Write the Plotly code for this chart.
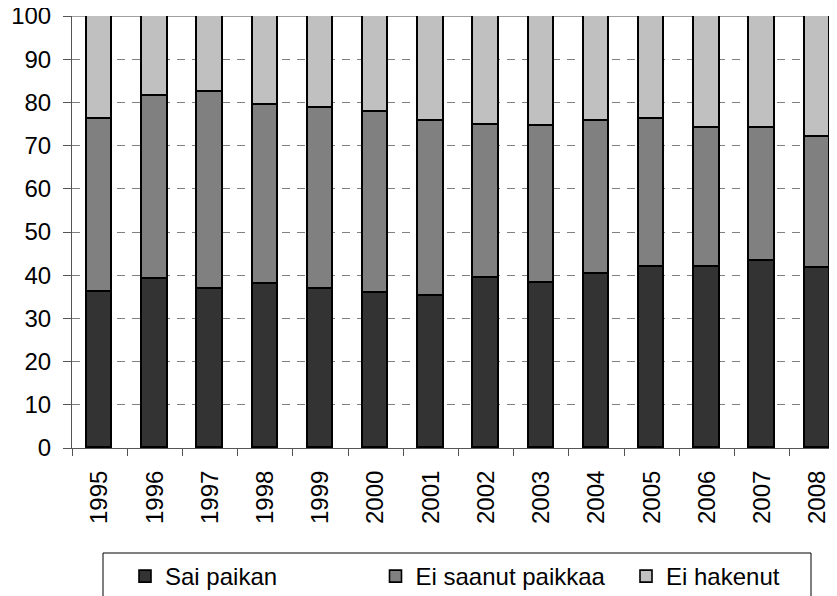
import plotly.graph_objects as go

years = ["1995", "1996", "1997", "1998", "1999", "2000", "2001",
         "2002", "2003", "2004", "2005", "2006", "2007", "2008"]
sai_paikan = [36.0, 39.1, 36.9, 38.0, 36.7, 35.8, 35.3, 39.4, 38.2, 40.2, 42.0, 42.0, 43.4, 41.7]
ei_saanut_paikkaa = [40.1, 42.4, 45.5, 41.3, 41.9, 42.0, 40.3, 35.4, 36.4, 35.6, 34.2, 32.1, 30.7, 30.4]
ei_hakenut = [23.9, 18.5, 17.6, 20.7, 21.4, 22.2, 24.4, 25.2, 25.4, 24.2, 23.8, 25.9, 25.9, 27.9]
y_ticks = [0, 10, 20, 30, 40, 50, 60, 70, 80, 90, 100]

series = [
    ("Sai paikan", sai_paikan, "#333333"),
    ("Ei saanut paikkaa", ei_saanut_paikkaa, "#808080"),
    ("Ei hakenut", ei_hakenut, "#c0c0c0"),
]

fig = go.Figure()
for name, vals, col in series:
    fig.add_trace(go.Bar(
        x=years, y=vals, name=name, width=0.46,
        marker=dict(color=col, line=dict(color="#000000", width=1.6)),
    ))

# the page body has an 8px margin, so figure coords = page coords - 8
OFF = 8
W, H = 837, 596
L = 72 - OFF
T = 16 - OFF
bottom = 448 - OFF
R = 0
B = H - bottom
pw = W - L - R
ph = bottom - T

fig.update_layout(
    width=W, height=H,
    barmode="stack",
    bargap=0,
    paper_bgcolor="white",
    plot_bgcolor="white",
    margin=dict(l=L, r=R, t=T, b=B, pad=0, autoexpand=False),
    font=dict(family="Liberation Sans, Arial, sans-serif", size=24, color="#000000"),
    showlegend=True,
    legend=dict(
        orientation="h",
        x=(125 - OFF - L) / pw, xanchor="left",
        y=-(554 - OFF - bottom) / ph, yanchor="top",
        borderwidth=0,
        bgcolor="rgba(0,0,0,0)",
        font=dict(size=24),
        entrywidth=205.5, entrywidthmode="pixels",
        traceorder="normal",
    ),
    xaxis=dict(
        type="category",
        range=[-0.5, 13.5],
        automargin=False,
        showline=True, linecolor="#555555", linewidth=1,
        ticks="outside", ticklen=7, tickcolor="#555555",
        tickson="boundaries",
        tickangle=-90,
        ticklabelstandoff=12,
        ticklabeloverflow="allow",
        tickfont=dict(size=24),
        showgrid=False,
    ),
    yaxis=dict(
        range=[0, 100],
        tickvals=y_ticks,
        automargin=False,
        showline=True, linecolor="#555555", linewidth=1,
        ticks="outside", ticklen=8, tickcolor="#555555",
        ticklabelstandoff=7,
        ticklabeloverflow="allow",
        showgrid=True, gridcolor="#808080", gridwidth=1, griddash="8px,7px",
        zeroline=False,
        tickfont=dict(size=24),
    ),
)

# plot-area top border and legend frame
fig.add_shape(type="line", xref="paper", yref="y", x0=0, x1=1, y0=100, y1=100,
              line=dict(color="#808080", width=1.5), layer="below")
fig.add_shape(type="rect", xref="paper", yref="paper",
              x0=(103 - OFF - L) / pw, x1=(811 - OFF - L) / pw,
              y0=-(553 - OFF - bottom) / ph, y1=-(620 - OFF - bottom) / ph,
              line=dict(color="#000000", width=1), fillcolor="rgba(0,0,0,0)")

fig.write_html("out.html")
